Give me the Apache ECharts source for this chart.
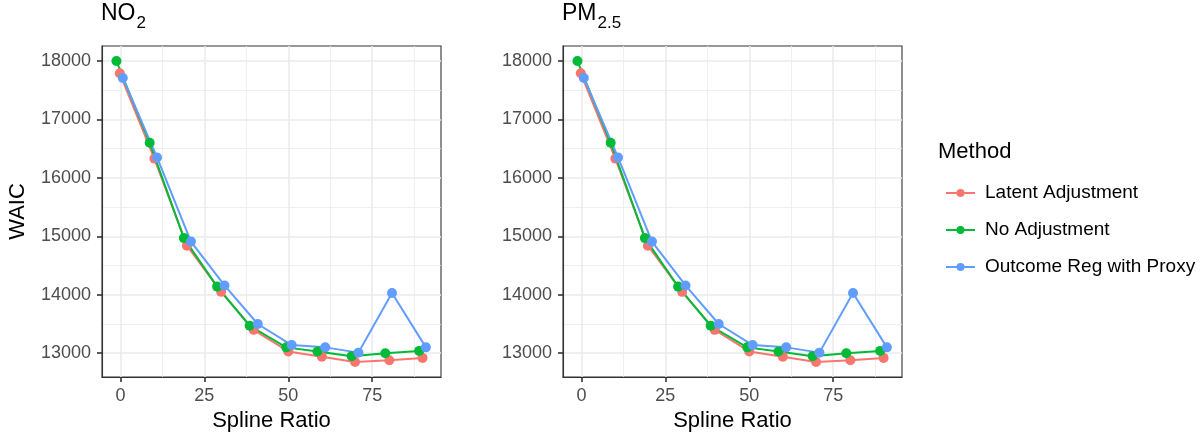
<!DOCTYPE html>
<html>
<head>
<meta charset="utf-8">
<script src="https://cdn.jsdelivr.net/npm/echarts@6/dist/echarts.min.js"></script>
<style>
  html, body { margin: 0; padding: 0; background: #fff; }
  #main { width: 1200px; height: 438px; }
</style>
</head>
<body>
<div id="main"></div>
<script>
// values (points are dodged a little around 0,10,...,90)
var methods = ['Latent Adjustment', 'No Adjustment', 'Outcome Reg with Proxy'];
var colors = ['#F8766D', '#00BA38', '#619CFF'];

var latentX = [-0.2, 10.1, 19.8, 30.0, 39.7, 50.0, 60.0, 69.9, 80.1, 90.0];
var latentY = [17790, 16330, 14840, 14050, 13400, 13030, 12940, 12850, 12880, 12920];
var noAdjX = [-1.2, 8.7, 18.9, 28.8, 38.5, 49.4, 58.7, 68.9, 78.9, 89.0];
var noAdjY = [18000, 16600, 14970, 14140, 13470, 13100, 13030, 12950, 13000, 13040];
var proxyX = [0.7, 10.9, 21.0, 31.0, 40.9, 51.0, 61.0, 70.9, 80.9, 91.0];
var proxyY = [17710, 16350, 14910, 14160, 13500, 13140, 13100, 13010, 14030, 13100];

// PM2.5 panel looks the same as NO2
var pmLatentY = [17790, 16330, 14840, 14050, 13400, 13030, 12940, 12850, 12880, 12920];
var pmNoAdjY = [18000, 16600, 14970, 14140, 13470, 13100, 13030, 12950, 13000, 13040];
var pmProxyY = [17710, 16350, 14910, 14160, 13500, 13140, 13100, 13010, 14030, 13100];

var xTicks = [0, 25, 50, 75];
var xMinor = [12.5, 37.5, 62.5, 87.5];
var yTicks = [13000, 14000, 15000, 16000, 17000, 18000];
var yMinor = [13500, 14500, 15500, 16500, 17500];
var xMin = -5.5, xMax = 95.5;
var yMin = 12593, yMax = 18257;

var font = 'Liberation Sans, Arial, sans-serif';

function pairs(xs, ys) {
    var out = [];
    for (var i = 0; i < xs.length; i++) out.push([xs[i], ys[i]]);
    return out;
}

var chart = echarts.init(document.getElementById('main'), null, {renderer: 'canvas'});

var grids = [
    {left: 102, top: 46, width: 339, height: 331},
    {left: 563, top: 46, width: 339, height: 331}
];
grids.forEach(function (g) {
    g.show = true;
    g.borderColor = '#333333';
    g.borderWidth = 1.1;
    g.backgroundColor = 'transparent';
});

var xAxes = [], yAxes = [];
for (var g = 0; g < 2; g++) {
    // minor grid lines only (listed first so they sit under the major ones)
    xAxes.push({
        gridIndex: g, type: 'value', min: xMin, max: xMax, position: 'top',
        axisLine: {show: false, onZero: false},
        axisTick: {show: false, customValues: xMinor},
        axisLabel: {show: false, customValues: xMinor},
        splitLine: {show: true, lineStyle: {color: '#EBEBEB', width: 0.8}}
    });
    // major axis with labels
    xAxes.push({
        gridIndex: g, type: 'value', min: xMin, max: xMax, position: 'bottom',
        axisLine: {show: true, onZero: false, lineStyle: {color: '#333333', width: 1.1}},
        axisTick: {show: true, length: 5, customValues: xTicks, lineStyle: {color: '#333333', width: 1.6}},
        axisLabel: {customValues: xTicks, margin: 10, fontSize: 18, color: '#4D4D4D', fontFamily: font,
            formatter: function (v) { return String(v); }},
        splitLine: {show: true, lineStyle: {color: '#EBEBEB', width: 1.6}},
        name: 'Spline Ratio', nameLocation: 'middle', nameGap: 32,
        nameTextStyle: {fontSize: 22, color: '#000', fontFamily: font}
    });
    yAxes.push({
        gridIndex: g, type: 'value', min: yMin, max: yMax, position: 'right',
        axisLine: {show: false, onZero: false},
        axisTick: {show: false, customValues: yMinor},
        axisLabel: {show: false, customValues: yMinor},
        splitLine: {show: true, lineStyle: {color: '#EBEBEB', width: 0.8}}
    });
    yAxes.push({
        gridIndex: g, type: 'value', min: yMin, max: yMax, position: 'left',
        axisLine: {show: true, onZero: false, lineStyle: {color: '#333333', width: 1.1}},
        axisTick: {show: true, length: 5, customValues: yTicks, lineStyle: {color: '#333333', width: 1.6}},
        axisLabel: {customValues: yTicks, margin: 11, fontSize: 18, color: '#4D4D4D', fontFamily: font,
            formatter: function (v) { return String(v); }},
        splitLine: {show: true, lineStyle: {color: '#EBEBEB', width: 1.6}},
        name: g === 0 ? 'WAIC' : '', nameLocation: 'middle', nameGap: 73,
        nameTextStyle: {fontSize: 22, color: '#000', fontFamily: font}
    });
}

var panels = [
    [pairs(latentX, latentY), pairs(noAdjX, noAdjY), pairs(proxyX, proxyY)],
    [pairs(latentX, pmLatentY), pairs(noAdjX, pmNoAdjY), pairs(proxyX, pmProxyY)]
];

var series = [];
panels.forEach(function (p, gi) {
    p.forEach(function (d, i) {
        series.push({
            name: methods[i],
            type: 'line',
            xAxisIndex: gi * 2 + 1,
            yAxisIndex: gi * 2 + 1,
            data: d,
            symbol: 'circle',
            symbolSize: 10,
            showSymbol: true,
            lineStyle: {width: 2, color: colors[i]},
            itemStyle: {color: colors[i]},
            emphasis: {disabled: true},
            animation: false
        });
    });
});

function subTitle(main, sub, left) {
    return {
        text: '{m|' + main + '}{s|' + sub + '}',
        left: left, top: 2, padding: 0,
        textStyle: {
            fontWeight: 'normal',
            rich: {
                m: {fontSize: 23, lineHeight: 24, verticalAlign: 'top', fontWeight: 'normal', color: '#000', fontFamily: font},
                s: {fontSize: 17, lineHeight: 17, verticalAlign: 'top', padding: [13, 0, 0, 1], fontWeight: 'normal', color: '#000', fontFamily: font}
            }
        }
    };
}

var option = {
    backgroundColor: '#ffffff',
    animation: false,
    title: [
        subTitle('NO', '2', 101),
        subTitle('PM', '2.5', 562),
        {text: 'Method', left: 938, top: 141, padding: 0,
            textStyle: {fontSize: 22, fontWeight: 'normal', color: '#000', fontFamily: font}}
    ],
    legend: {
        data: methods,
        orient: 'vertical',
        left: 940, top: 178,
        itemWidth: 29, itemHeight: 10, itemGap: 17,
        textStyle: {fontSize: 19, lineHeight: 20, color: '#000', fontFamily: font, padding: [0, 0, 0, 5]}
    },
    grid: grids,
    xAxis: xAxes,
    yAxis: yAxes,
    series: series
};
chart.setOption(option);
</script>
</body>
</html>
